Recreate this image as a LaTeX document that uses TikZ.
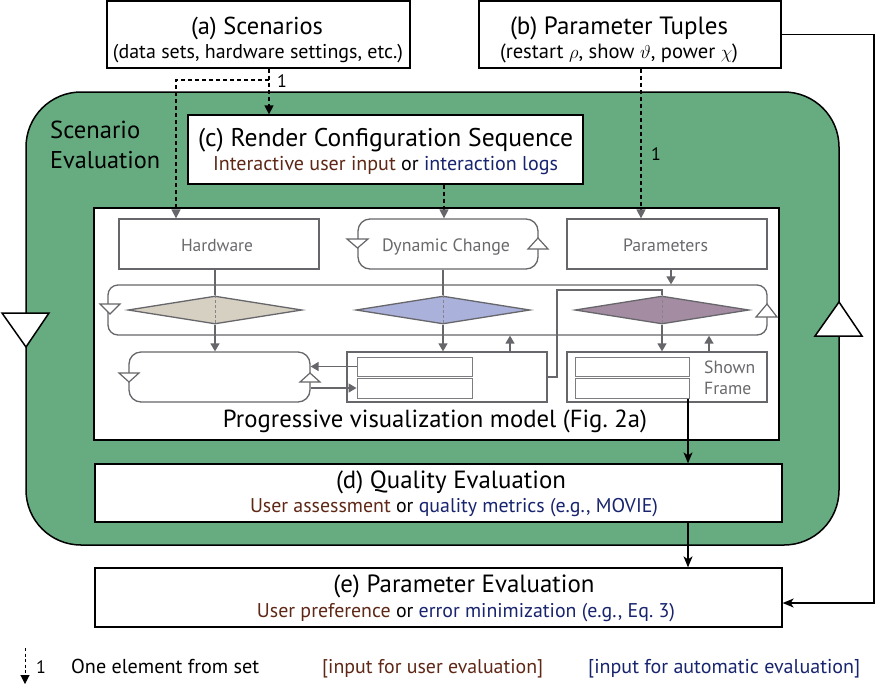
\documentclass[tikz,border=0pt]{standalone}
\usepackage{fontspec}
\usepackage{graphicx}
\setmainfont{PT Sans}
\usetikzlibrary{arrows.meta,shapes.geometric}
\definecolor{scgreen}{HTML}{66AC80}
\definecolor{ugrey}{HTML}{66666B}
\definecolor{tgrey}{HTML}{6A6A6E}
\definecolor{ubrown}{HTML}{5E2716}
\definecolor{unavy}{HTML}{18246E}
\definecolor{dtan}{HTML}{D6D0C2}
\definecolor{dlav}{HTML}{AAB1DA}
\definecolor{dmauve}{HTML}{A48CA2}
\newcommand{\fitto}[2]{\resizebox{#1pt}{!}{#2}}
\tikzset{
  outerbox/.style={draw=black,line width=1.3pt,fill=white,inner sep=0pt},
  greybox/.style={draw=ugrey,line width=1.3pt,fill=white,inner sep=0pt},
  slotbox/.style={draw=ugrey!85,line width=1pt,fill=white,inner sep=0pt},
  diabox/.style={diamond,draw=ugrey,line width=1.3pt,inner sep=0pt,minimum width=174pt,minimum height=28pt},
  ttl/.style={font=\fontsize{24}{28}\selectfont,inner sep=0pt,anchor=base},
  subt/.style={font=\fontsize{19}{22}\selectfont,inner sep=0pt,anchor=base},
  glabel/.style={font=\fontsize{16}{19}\selectfont,text=tgrey,inner sep=0pt,anchor=base},
  legtxt/.style={font=\fontsize{18}{21}\selectfont,inner sep=0pt,anchor=base west},
  gline/.style={draw=ugrey,line width=1.4pt},
  gdash/.style={draw=ugrey!80,line width=1pt,dash pattern=on 3pt off 2pt},
  garrow/.style={gline,-{Triangle[width=9pt,length=8pt]}},
  barrow/.style={draw=black,line width=1.3pt,-{Stealth[width=9pt,length=11pt,inset=3pt]}},
  dline/.style={draw=black,line width=1.4pt,dash pattern=on 4pt off 3pt},
  darrow/.style={dline,-{Triangle[width=9pt,length=9pt]}},
  dgarrow/.style={dline,-{Triangle[width=9pt,length=9pt,color=ugrey]}},
  gtri/.style={draw=ugrey,line width=1.2pt,fill=white},
  btri/.style={draw=black,line width=1.5pt,fill=white},
}
\begin{document}
\begin{tikzpicture}[x=1pt,y=-1pt]
\useasboundingbox (0,0) rectangle (885,689);
% top boxes
\node[outerbox,minimum width=303pt,minimum height=67pt] (a) at (258.5,34.5) {};
\node[ttl] (atitle) at (257,34) {\fitto{132}{(a) Scenarios}};
\node[subt] (asub) at (258,58) {\fitto{290}{(data sets, hardware settings, etc.)}};
\node[outerbox,minimum width=302pt,minimum height=67pt] (b) at (630,34.5) {};
\node[ttl] (btitle) at (619,34) {\fitto{218}{(b) Parameter Tuples}};
\node[subt] (bsub) at (619,58) {\fitto{238}{(restart $\rho$, show $\vartheta$, power $\chi$)}};
% green scenario evaluation
\node[draw=black,line width=1.5pt,fill=scgreen,rounded corners=55pt,inner sep=0pt,minimum width=813pt,minimum height=453pt] (scen) at (432.5,318.5) {};
\node[ttl,anchor=base west] (scl1) at (50,138) {\fitto{90}{Scenario}};
\node[ttl,anchor=base west] (scl2) at (50,168) {\fitto{110}{Evaluation}};
\draw[btri] (2,313) -- (49,313) -- (26,347) -- cycle;
\draw[btri] (839,302) -- (862,336) -- (815,336) -- cycle;
% (c)
\node[outerbox,minimum width=395pt,minimum height=69pt] (c) at (385.5,149.5) {};
\node[ttl] (ctitle) at (385.5,146) {\fitto{375}{(c) Render Configuration Sequence}};
\node[subt] (csub) at (385.5,170) {\fitto{345}{\textcolor{ubrown}{Interactive user input} or \textcolor{unavy}{interaction logs}}};
% progressive model
\node[outerbox,minimum width=685pt,minimum height=232pt] (prog) at (436.5,324) {};
\node[ttl] (progt) at (435,427) {\fitto{424}{Progressive visualization model (Fig.~2a)}};
% grey top boxes
\node[greybox,minimum width=200pt,minimum height=50pt] (hw) at (219,244) {};
\node[glabel] (hwt) at (217,251) {\fitto{72}{Hardware}};
\node[greybox,rounded corners=12pt,minimum width=180pt,minimum height=50pt] (dyn) at (448,244) {};
\node[glabel] (dynt) at (446,251) {\fitto{128}{Dynamic Change}};
\node[greybox,minimum width=200pt,minimum height=50pt] (par) at (667,244) {};
\node[glabel] (part) at (665.5,251) {\fitto{85}{Parameters}};
\draw[gtri] (347,239) -- (368,239) -- (357.5,248) -- cycle;
\draw[gtri] (538,238) -- (548,249) -- (528,249) -- cycle;
% band
\node[greybox,rounded corners=10pt,minimum width=659pt,minimum height=50pt] (band) at (437.5,310) {};
\draw[gtri] (100,304) -- (120,304) -- (110,314) -- cycle;
\draw[gtri] (767,304) -- (777,317) -- (756,317) -- cycle;
% lower boxes
\node[greybox,rounded corners=12pt,minimum width=181pt,minimum height=50pt] (ll) at (219.5,377) {};
\draw[gtri] (119,373) -- (139,373) -- (129,382) -- cycle;
\draw[gtri] (310,373) -- (320,382) -- (300,382) -- cycle;
\node[greybox,minimum width=200pt,minimum height=50pt] (mid) at (447,377) {};
\node[slotbox,minimum width=115pt,minimum height=19pt] (mids1) at (414.5,366.5) {};
\node[slotbox,minimum width=115pt,minimum height=20pt] (mids2) at (414.5,388) {};
\node[greybox,minimum width=200pt,minimum height=50pt] (sf) at (667,377) {};
\node[slotbox,minimum width=114pt,minimum height=19pt] (sfs1) at (632,366.5) {};
\node[slotbox,minimum width=114pt,minimum height=20pt] (sfs2) at (632,388) {};
\node[glabel,anchor=base west] (sft1) at (704,373) {\fitto{51}{Shown}};
\node[glabel,anchor=base west] (sft2) at (704,394) {\fitto{47}{Frame}};
% diamonds and their lines
\node[diabox,fill=dtan] (d1) at (215,310) {};
\node[diabox,fill=dlav] (d2) at (443,310) {};
\node[diabox,fill=dmauve] (d3) at (662,310) {};
\draw[gline] (hw.south -| d1.north) -- (d1.north);
\draw[gdash] (d1.north) -- (d1.south);
\draw[garrow] (d1.south) -- (ll.north -| d1.south);
\draw[gline] (dyn.south -| d2.north) -- (d2.north);
\draw[gdash] (d2.north) -- (d2.south);
\draw[garrow] (d2.south) -- (mid.north -| d2.south);
\coordinate (pa) at (671,270);
\draw[garrow] (par.south -| pa) -- (band.north -| pa);
\coordinate (p1) at (557,290);
\draw[gline] (mid.east) -| (p1) -| (d3.north);
\draw[gdash] (d3.north) -- (d3.south);
\draw[garrow] (d3.south) -- (sf.north -| d3.south);
\coordinate (u1) at (510,345);
\coordinate (u2) at (709,345);
\draw[garrow] (mid.north -| u1) -- (band.south -| u1);
\draw[garrow] (sf.north -| u2) -- (band.south -| u2);
\draw[garrow] (mids1.west) -- (ll.east |- mids1.west);
\draw[garrow] (ll.east |- mids2.west) -- (mids2.west);
% dashed inputs
\coordinate (j1) at (269,80);
\coordinate (j2) at (176,80);
\coordinate (j3) at (444,200);
\coordinate (j4) at (641,200);
\draw[darrow] (a.south -| j1) -- (c.north -| j1);
\draw[dgarrow] (j1) -- (j2) -- (hw.north -| j2);
\draw[dgarrow] (c.south -| j3) -- (dyn.north -| j3);
\draw[dgarrow] (b.south -| j4) -- (par.north -| j4);
\node[glabel,text=black,font=\fontsize{18}{21}\selectfont] (one1) at (282,87) {1};
\node[glabel,text=black,font=\fontsize{18}{21}\selectfont] (one2) at (656,160) {1};
% (d) and (e)
\node[outerbox,minimum width=687pt,minimum height=58pt] (d) at (438.5,493) {};
\node[ttl] (dtitle) at (451,488) {\fitto{230}{(d) Quality Evaluation}};
\node[subt] (dsub) at (454,512) {\fitto{408}{\textcolor{ubrown}{User assessment} or \textcolor{unavy}{quality metrics (e.g., MOVIE)}}};
\node[outerbox,minimum width=687pt,minimum height=59pt] (e) at (438.5,597.5) {};
\node[ttl] (etitle) at (464,592) {\fitto{261}{(e) Parameter Evaluation}};
\node[subt] (esub) at (466,617) {\fitto{418}{\textcolor{ubrown}{User preference} or \textcolor{unavy}{error minimization (e.g., Eq.~3)}}};
\coordinate (q) at (688,450);
\draw[barrow] (sfs2.south -| q) -- (d.north -| q);
\draw[barrow] (d.south -| q) -- (e.north -| q);
\coordinate (fb) at (874,603);
\draw[barrow] (b.east) -| (fb) -- (e.east |- fb);
% legend
\coordinate (l1) at (25,648);
\coordinate (l2) at (25,684);
\draw[darrow,line width=1pt,dash pattern=on 3pt off 2.5pt] (l1) -- (l2);
\node[legtxt] (lg1) at (36,673) {1};
\node[legtxt] (lg2) at (71,673) {\fitto{188}{One element from set}};
\node[legtxt,text=ubrown] (lg3) at (322,673) {\fitto{221}{[input for user evaluation]}};
\node[legtxt,text=unavy] (lg4) at (588,673) {\fitto{272}{[input for automatic evaluation]}};
\end{tikzpicture}
\end{document}
